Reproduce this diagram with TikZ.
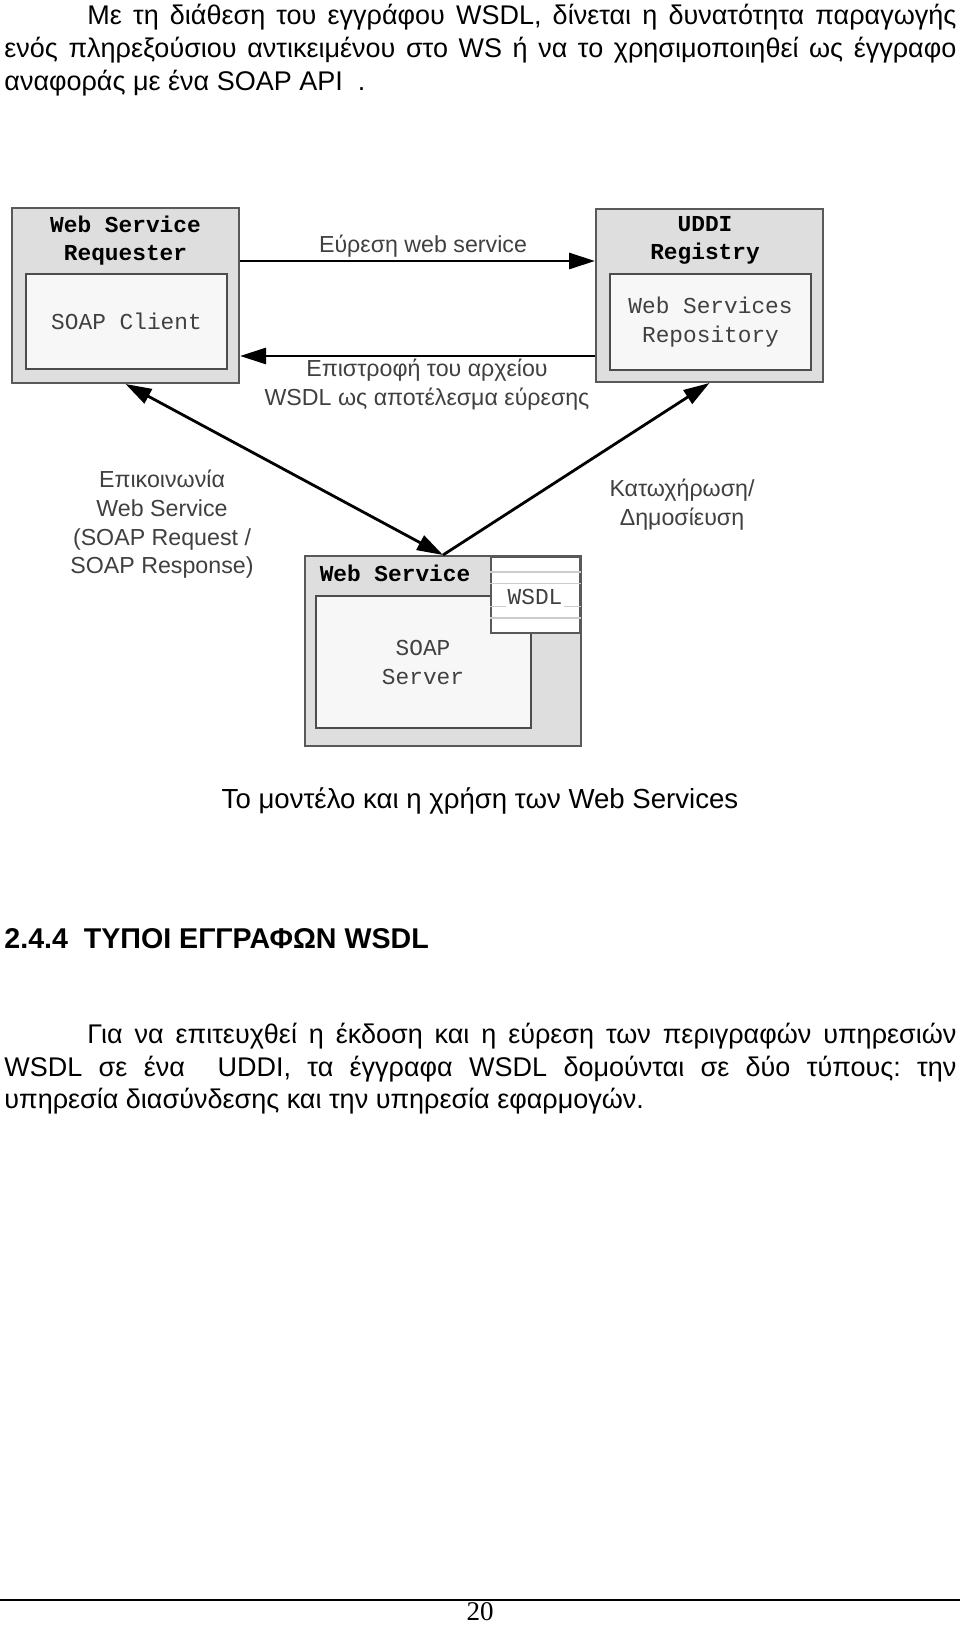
\documentclass[tikz,border=0pt]{standalone}
\usepackage{fontspec}
\setmainfont{Liberation Sans}
\setmonofont{Liberation Mono}
\newfontfamily\pagenofont{Liberation Serif}
\usetikzlibrary{arrows.meta,positioning,calc}
\frenchspacing

\begin{document}
\begin{tikzpicture}[
    x=0.5pt, y=-0.5pt,
    outerbox/.style={rectangle, draw=black!65, line width=1pt, fill=black!13, inner sep=0pt},
    innerbox/.style={rectangle, draw=black!70, line width=1pt, fill=black!3, inner sep=0pt},
    boxtitle/.style={font=\ttfamily\bfseries\fontsize{11.4}{14}\selectfont, align=center, inner sep=0pt},
    boxtext/.style={font=\ttfamily\fontsize{11.4}{14.5}\selectfont, text=black!75, align=center, inner sep=0pt},
    flowlabel/.style={font=\fontsize{11.6}{14.3}\selectfont, text=black!75, align=center, inner sep=0pt},
    bodyline/.style={font=\fontsize{13.5}{16}\selectfont, anchor=base west, inner sep=0pt},
    arrow/.style={-{Triangle[length=13pt,width=8pt]}, line width=1.4pt},
    twoway/.style={{Triangle[length=13pt,width=8pt]}-{Triangle[length=13pt,width=8pt]}, line width=1.4pt}
]
\path[fill=white, use as bounding box] (0,0) rectangle (960,1625);

% text above the figure
\node[bodyline] (p1a) at (87,24.5) {\makebox[434.5pt][s]{Με τη διάθεση του εγγράφου WSDL, δίνεται η δυνατότητα παραγωγής}};
\node[bodyline] (p1b) at (4,57.5) {\makebox[476pt][s]{ενός πληρεξούσιου αντικειμένου στο WS ή να το χρησιμοποιηθεί ως έγγραφο}};
\node[bodyline] (p1c) at (4,90.5) {αναφοράς με ένα SOAP API~~.};

% requester and registry
\node[outerbox, minimum width=113.5pt, minimum height=87.5pt] (req) at (125.5,295.5) {};
\node[innerbox, minimum width=100.5pt, minimum height=47.5pt] (reqin) at (126.5,321.5) {};
\node[boxtitle] (reqtitle) at (125.5,241) {Web Service\\Requester};
\node[boxtext] (client) at (reqin) {SOAP Client};

\node[outerbox, minimum width=113.5pt, minimum height=86.5pt] (uddi) at (709.5,295.5) {};
\node[innerbox, minimum width=100.5pt, minimum height=48pt] (uddiin) at (710.5,322) {};
\node[boxtitle] (uddititle) at (705,240.5) {UDDI\\Registry};
\node[boxtext] (repo) at (uddiin) {Web Services\\Repository};

% web service
\node[outerbox, minimum width=138pt, minimum height=95pt] (ws) at (443,651) {};
\node[innerbox, minimum width=107.5pt, minimum height=66pt] (wsin) at (423.5,662) {};
\node[rectangle, draw=black!65, line width=1pt, fill=white, minimum width=44.5pt, minimum height=38pt] (wsdl) at (535.5,595) {};
\draw[black!20, line width=0.6pt] ([yshift=11.5pt]wsdl.west) -- ([yshift=11.5pt]wsdl.east);
\draw[black!20, line width=0.6pt] ([yshift=5.75pt]wsdl.west) -- ([yshift=5.75pt]wsdl.east);
\draw[black!20, line width=0.6pt] ([yshift=-5.75pt]wsdl.west) -- ([yshift=-5.75pt]wsdl.east);
\draw[black!20, line width=0.6pt] ([yshift=-11.5pt]wsdl.west) -- ([yshift=-11.5pt]wsdl.east);
\node[boxtext, fill=white, inner sep=1pt] (wsdltext) at (535,597) {WSDL};
\node[boxtitle] (wstitle) at (395,573) {Web Service};
\node[boxtext] (server) at (423,662) {SOAP\\Server};

% connectors
\draw[arrow] ([yshift=17.25pt]req.east) -- ([yshift=17.25pt]uddi.west);
\draw[arrow] ([yshift=-30.25pt]uddi.west) -- ([yshift=-30.25pt]req.east);
\draw[twoway] (req.south) -- (ws.north);
\draw[arrow] (ws.north) -- (uddi.south);

\node[flowlabel] (findlbl) at (423,246) {Εύρεση web service};
\node[flowlabel] (returnlbl) at (427,384.5) {Επιστροφή του αρχείου\\WSDL ως αποτέλεσμα εύρεσης};
\node[flowlabel] (commlbl) at (162,524.5) {Επικοινωνία\\Web Service\\(SOAP Request /\\SOAP Response)};
\node[flowlabel] (publbl) at (682,504.5) {Κατωχήρωση/\\Δημοσίευση};

% caption and text below
\node[font=\fontsize{13.8}{16}\selectfont, anchor=base, inner sep=0pt] (caption) at (480,808.5) {Το μοντέλο και η χρήση των Web Services};
\node[bodyline, font=\bfseries\fontsize{14.3}{16}\selectfont] (heading) at (4,948.5) {2.4.4~~ΤΥΠΟΙ ΕΓΓΡΑΦΩΝ WSDL};
\node[bodyline] (p2a) at (87,1043) {\makebox[434.5pt][s]{Για να επιτευχθεί η έκδοση και η εύρεση των περιγραφών υπηρεσιών}};
\node[bodyline] (p2b) at (4,1076) {\makebox[476pt][s]{WSDL σε ένα~~UDDI, τα έγγραφα WSDL δομούνται σε δύο τύπους: την}};
\node[bodyline] (p2c) at (4,1108.5) {υπηρεσία διασύνδεσης και την υπηρεσία εφαρμογών.};

% footer
\draw[line width=1pt] (0,1600) -- (960,1600);
\node[font=\pagenofont\fontsize{13.5}{16}\selectfont, anchor=base, inner sep=0pt] (pageno) at (480,1620) {20};
\end{tikzpicture}
\end{document}
